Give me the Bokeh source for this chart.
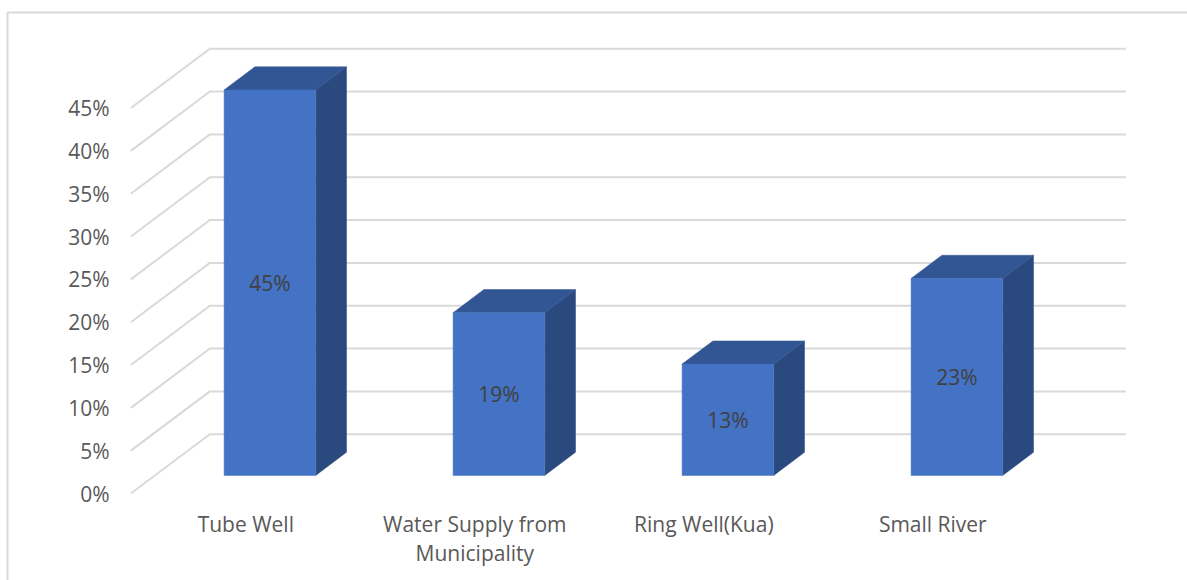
from bokeh.embed import file_html
from bokeh.resources import INLINE
from bokeh.models import FixedTicker, Range1d
from bokeh.plotting import figure
from bokeh.core.properties import value

categories = ["Tube Well", "Water Supply from\nMunicipality", "Ring Well(Kua)", "Small River"]
shares = [45, 19, 13, 23]
tick_values = [0, 5, 10, 15, 20, 25, 30, 35, 40, 45]

FONT = "Open Sans"
GRID = "#d9d9d9"
FRONT, TOP, SIDE = "#4472c4", "#325694", "#2a4a7f"

# Oblique projection: depth 0 is the front edge of the floor, depth 1 the back wall.
DEPTH_X = 0.345        # category units
DEPTH_Y = 6.92         # percentage points
BAR_HALF = 0.2
BAR_NEAR, BAR_FAR = 0.305, 0.695
WALL_LEFT, WALL_RIGHT = -0.502, 3.498

X_RANGE = (-1.0712, 4.1122)
Y_RANGE = (-10.155, 57.55)
BORDER_LEFT, BORDER_TOP = -1.0406, 56.15


def project(x, v, d):
    return x + d * DEPTH_X, v + d * DEPTH_Y


p = figure(
    width=1187, height=580, output_backend="svg", toolbar_location=None,
    x_range=Range1d(*X_RANGE), y_range=Range1d(*Y_RANGE),
    min_border=0,
    background_fill_color="white", border_fill_color="white", outline_line_color=None,
)
p.grid.visible = False

# Axes carry only their labels, pulled inside the plot area; the gridlines are
# drawn in perspective below.
p.yaxis.ticker = FixedTicker(ticks=tick_values)
p.yaxis.major_label_overrides = {t: f"{t}%" for t in tick_values}
p.xaxis.ticker = FixedTicker(ticks=list(range(len(categories))))
p.xaxis.major_label_overrides = dict(enumerate(categories))
for axis in (p.xaxis[0], p.yaxis[0]):
    axis.axis_line_color = None
    axis.major_tick_line_color = None
    axis.minor_tick_line_color = None
    axis.major_label_text_font = FONT
    axis.major_label_text_font_size = "21px"
    axis.major_label_text_color = "#595959"
    axis.major_label_text_line_height = 1.04
p.yaxis.major_label_standoff = -115
p.xaxis.major_label_standoff = -77

# Chart area border, open towards the right and bottom of the page
p.line([BORDER_LEFT, BORDER_LEFT, X_RANGE[1]], [Y_RANGE[0], BORDER_TOP, BORDER_TOP],
       line_color=GRID, line_width=2)

# Side wall and back wall gridlines
for t in tick_values:
    fx, fy = project(WALL_LEFT, t, 0)
    bx, by = project(WALL_LEFT, t, 1)
    ex, ey = project(WALL_RIGHT, t, 1)
    p.line([fx, bx, ex], [fy, by, ey], line_color=GRID, line_width=2)

# Each bar is three faces: front, top and right side
for i, share in enumerate(shares):
    left, right = i - BAR_HALF, i + BAR_HALF
    corners = {
        "fl0": project(left, 0, BAR_NEAR), "fr0": project(right, 0, BAR_NEAR),
        "fl1": project(left, share, BAR_NEAR), "fr1": project(right, share, BAR_NEAR),
        "bl1": project(left, share, BAR_FAR), "br1": project(right, share, BAR_FAR),
        "br0": project(right, 0, BAR_FAR),
    }
    faces = [
        (("fr0", "br0", "br1", "fr1"), SIDE),
        (("fl1", "fr1", "br1", "bl1"), TOP),
        (("fl0", "fr0", "fr1", "fl1"), FRONT),
    ]
    for keys, color in faces:
        p.patch([corners[k][0] for k in keys], [corners[k][1] for k in keys],
                fill_color=color, line_color=color, line_width=0.5)
    cx, cy = project(i, share / 2, BAR_NEAR)
    p.text([cx], [cy], text=[f"{share}%"], text_align="center", text_baseline="middle",
           text_font=value(FONT), text_font_size="21px", text_color="#404040")

open("out.html", "w").write(file_html(p, INLINE))
